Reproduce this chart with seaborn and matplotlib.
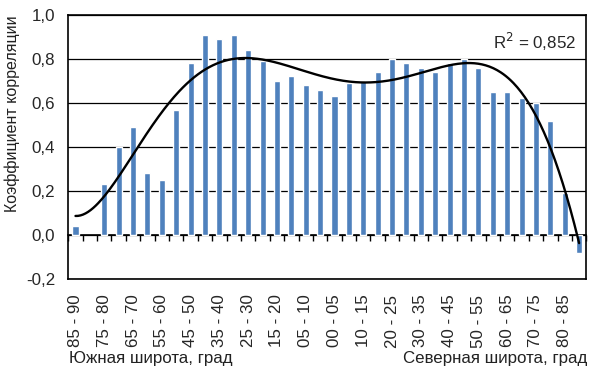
import numpy as np
import pandas as pd
import matplotlib
matplotlib.use('Agg')
import matplotlib.pyplot as plt
import seaborn as sns

# широтные пояса: южное полушарие (с юга к экватору), затем северное
south_bands = ['85 - 90', '80 - 85', '75 - 80', '70 - 75', '65 - 70', '60 - 65',
               '55 - 60', '50 - 55', '45 - 50', '40 - 45', '35 - 40', '30 - 35',
               '25 - 30', '20 - 25', '15 - 20', '10 - 15', '05 - 10', '00 - 05']
north_bands = ['00 - 05', '05 - 10', '10 - 15', '15 - 20', '20 - 25', '25 - 30',
               '30 - 35', '35 - 40', '40 - 45', '45 - 50', '50 - 55', '55 - 60',
               '60 - 65', '65 - 70', '70 - 75', '75 - 80', '80 - 85', '85 - 90']

south_corr = [0.04, np.nan, 0.23, 0.40, 0.49, 0.28, 0.25, 0.57, 0.78, 0.91,
              0.89, 0.91, 0.84, 0.79, 0.70, 0.72, 0.68, 0.66]
north_corr = [0.63, 0.69, 0.70, 0.74, 0.80, 0.78, 0.76, 0.74, 0.78, 0.80,
              0.76, 0.65, 0.65, 0.62, 0.60, 0.52, 0.19, -0.08]

r2_text = 'R$^2$ = 0,852'

labels = south_bands + north_bands
keys = ['S ' + b for b in south_bands] + ['N ' + b for b in north_bands]
df = pd.DataFrame({'band': keys, 'corr': south_corr + north_corr})

sns.set_style('white')
plt.rcParams['font.family'] = ['Liberation Sans', 'DejaVu Sans']
fs = 12.2

fig = plt.figure(figsize=(5.98, 3.77), dpi=100)
ax = fig.add_axes([68.3 / 598, 1 - 279.3 / 377, 518 / 598, 264.6 / 377])

sns.barplot(data=df, x='band', y='corr', order=keys, color='#4F81BD',
            saturation=1, width=0.42, ax=ax, zorder=3)

# полиномиальный тренд 6-й степени (как в Excel), пустой пояс не учитывается
pos = np.arange(len(keys))
vals = df['corr'].to_numpy()
ok = ~np.isnan(vals)
coef = np.polyfit(pos[ok], vals[ok], 6)
xs = np.linspace(0, len(keys) - 1, 400)
ax.plot(xs, np.polyval(coef, xs), color='black', lw=1.7, zorder=4)

ymin, ymax = -0.2, 1.0
ax.set_ylim(ymin, ymax)
ax.set_xlim(-0.5, len(keys) - 0.5)
yt = np.arange(-0.2, 1.01, 0.2)
ax.set_yticks(yt)
ax.set_yticklabels([f'{v:.1f}'.replace('.', ',') for v in yt], fontsize=fs)
ax.tick_params(axis='y', length=3, width=1, color='black', pad=6.5)
for v in yt:
    ax.axhline(v, color='black', lw=0.9, zorder=1)

ax.set_xticks(pos[::2])
ax.set_xticklabels(labels[::2], rotation=90, fontsize=fs)
ax.tick_params(axis='x', length=0, pad=11)
ax.set_xlabel('')
ax.set_ylabel('')

for s in ax.spines.values():
    s.set_color('black')
    s.set_linewidth(1.2)

# ось категорий на нулевой линии с рисками между поясами
zero_ax = ax.secondary_xaxis((0 - ymin) / (ymax - ymin))
zero_ax.set_xticks(np.arange(len(keys) + 1) - 0.5)
zero_ax.set_xticklabels([])
zero_ax.tick_params(axis='x', direction='out', length=4, width=1, color='black')
zero_ax.spines['bottom'].set_color('black')
zero_ax.spines['bottom'].set_linewidth(1.2)

ax.text(0.981, 0.897, r2_text, transform=ax.transAxes, ha='right', va='center',
        fontsize=fs)

fig.text(12 / 598, 1 - 114 / 377, 'Коэффициент корреляции', fontsize=11.5,
         rotation=90, ha='center', va='center', color='#222222')
fig.text(69 / 598, 1 - 358 / 377, 'Южная широта, град', fontsize=fs,
         ha='left', va='center', color='#222222')
fig.text(587 / 598, 1 - 358 / 377, 'Северная широта, град', fontsize=fs,
         ha='right', va='center', color='#222222')

fig.savefig('out.png', dpi=100)
